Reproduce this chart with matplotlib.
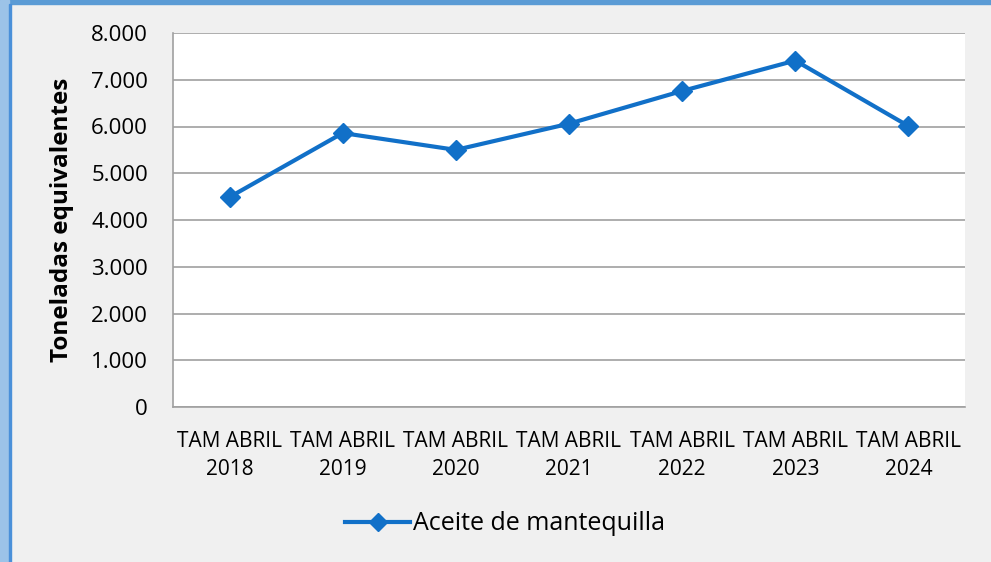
import matplotlib.pyplot as plt
from matplotlib.patches import Rectangle
from matplotlib.ticker import FuncFormatter

years = ["2018", "2019", "2020", "2021", "2022", "2023", "2024"]
labels = ["TAM ABRIL\n" + y for y in years]
values = [4490, 5860, 5500, 6060, 6760, 7410, 6010]

plt.rcParams['font.family'] = ['Open Sans', 'DejaVu Sans']

fig = plt.figure(figsize=(9.91, 5.62), dpi=100)
fig.patch.set_facecolor('#f0f0f0')

# blue window border on top and left
fig.add_artist(Rectangle((0, 1 - 4 / 562), 1, 4 / 562, transform=fig.transFigure,
                         color='#5b9bd5', zorder=0))
fig.add_artist(Rectangle((0, 0), 9 / 991, 1, transform=fig.transFigure,
                         color='#9cc3e8', zorder=0))
fig.add_artist(Rectangle((9 / 991, 0), 1.5 / 991, 1 - 4 / 562, transform=fig.transFigure,
                         color='#4a90d9', zorder=0))

ax = fig.add_axes([173 / 991, 1 - 407 / 562, 792 / 991, 374 / 562])
ax.set_facecolor('white')

x = range(len(labels))
ax.plot(x, values, color='#1170c8', linewidth=3, marker='D', markersize=10,
        label='Aceite de mantequilla')

ax.set_xlim(-0.5, len(labels) - 0.5)
ax.set_ylim(0, 8000)
ax.set_yticks(range(0, 8001, 1000))
ax.yaxis.set_major_formatter(FuncFormatter(lambda v, p: f"{int(v):,}".replace(",", ".")))
ax.set_xticks(list(x))
ax.set_xticklabels(labels, linespacing=1.45)
ax.grid(axis='y', color='#a0a0a0', linewidth=1.2)
ax.set_axisbelow(True)
ax.tick_params(length=0)
ax.tick_params(axis='y', labelsize=16, pad=18)
ax.tick_params(axis='x', labelsize=15, pad=17)

for s in ['top', 'right']:
    ax.spines[s].set_visible(False)
for s in ['left', 'bottom']:
    ax.spines[s].set_color('#a0a0a0')
    ax.spines[s].set_linewidth(1.2)

ax.set_ylabel('Toneladas equivalentes', fontsize=17.5, fontweight='bold', labelpad=12)

fig.legend(loc='center', bbox_to_anchor=(505 / 991, 1 - 524 / 562), frameon=False,
           fontsize=18, handlelength=2.6, handletextpad=0.1, markerscale=0.9)

fig.savefig('out.png', dpi=100, facecolor=fig.get_facecolor())
